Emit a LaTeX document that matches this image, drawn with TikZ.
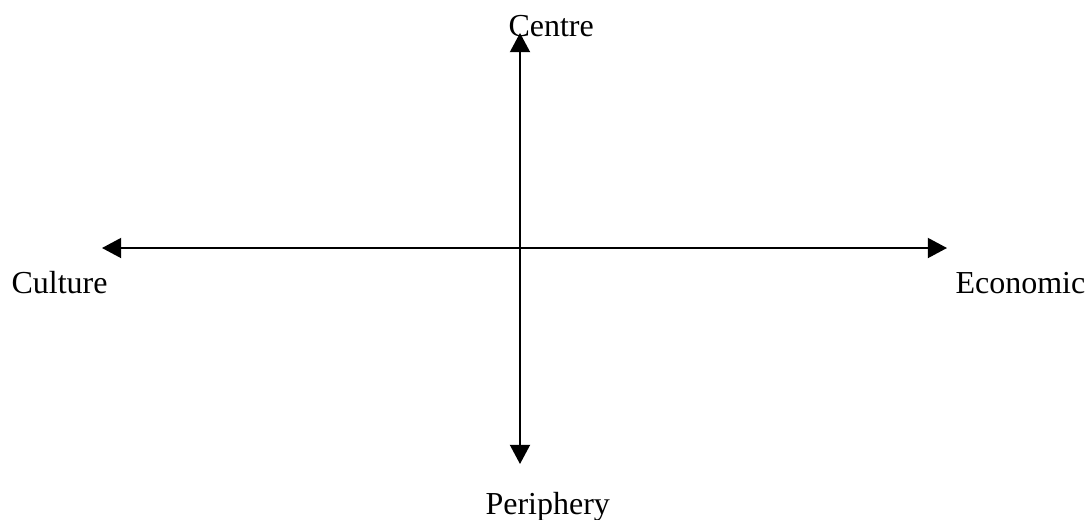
\documentclass[tikz,border=0pt]{standalone}
\usepackage{fontspec}
\setmainfont{Liberation Serif}
\usetikzlibrary{arrows.meta}

\begin{document}
\begin{tikzpicture}[x=0.375pt,y=-0.375pt]
\useasboundingbox (0,0) rectangle (1091,519);
\tikzset{axis/.style={line width=0.75pt,{Triangle[length=7.2pt,width=7.5pt]}-{Triangle[length=7.2pt,width=7.5pt]}},
  lbl/.style={inner sep=0pt,anchor=base west,font=\fontsize{12pt}{14pt}\selectfont}}
\coordinate (top) at (520,33);
\coordinate (bot) at (520,464);
\coordinate (lft) at (102,248);
\coordinate (rgt) at (947,248);
\draw[axis] (top)--(bot);
\draw[axis] (lft)--(rgt);
\node[lbl] (C) at (508,36) {Centre};
\node[lbl] (P) at (485,514) {Periphery};
\node[lbl] (Cu) at (11,293) {Culture};
\node[lbl] (E) at (955,293) {Economic};
\end{tikzpicture}
\end{document}
